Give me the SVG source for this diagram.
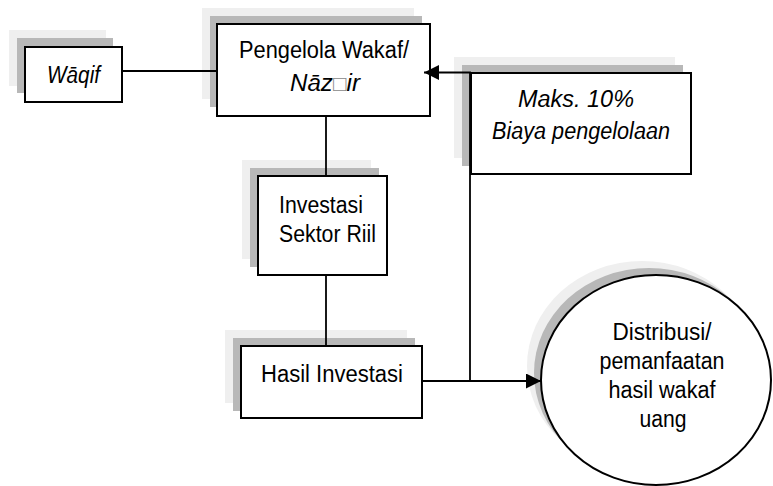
<svg xmlns="http://www.w3.org/2000/svg" width="773" height="486" viewBox="0 0 773 486">
<style>
.sh1{fill:#efefef;stroke:none}
.sh2{fill:#b8b8b8;stroke:none}
.box{fill:#fff;stroke:#000;stroke-width:2}
.t{font-family:"Liberation Sans",Arial,sans-serif;font-size:23.5px;fill:#000}
.i{font-style:italic}
.c{text-anchor:middle}
.ln{fill:none;stroke:#000;stroke-width:1.8}
.tofu{font-style:normal;fill:#888}
</style>
<defs>
<marker id="ah" markerUnits="userSpaceOnUse" markerWidth="16" markerHeight="16" refX="15" refY="7.5" orient="auto">
<path d="M0,0 L15,7.5 L0,15 z" fill="#000"/>
</marker>
</defs>
<rect width="773" height="486" fill="#fff"/>
<g id="waqif">
<rect class="sh1" x="9" y="30" width="97" height="56"/>
<rect class="sh2" x="17" y="38" width="96" height="55"/>
<rect class="box" x="25" y="47" width="97" height="55"/>
<text class="t i c" x="73.5" y="83" textLength="53" lengthAdjust="spacingAndGlyphs">Wāqif</text>
</g>
<g id="pengelola">
<rect class="sh1" x="202" y="8" width="212" height="91"/>
<rect class="sh2" x="210" y="16" width="212" height="91"/>
<rect class="box" x="217" y="24" width="213" height="92"/>
<text class="t c" x="324" y="58" textLength="170" lengthAdjust="spacingAndGlyphs">Pengelola Wakaf/</text>
<text class="t i c" x="325" y="91" textLength="70" lengthAdjust="spacingAndGlyphs">Nāz<tspan class="tofu" font-size="22">□</tspan>ir</text>
</g>
<g id="maks">
<rect class="sh1" x="454" y="57" width="221" height="101"/>
<rect class="sh2" x="462" y="65" width="221" height="101"/>
<rect class="box" x="471" y="73" width="220" height="101"/>
<text class="t i c" x="576" y="107" textLength="116" lengthAdjust="spacingAndGlyphs">Maks. 10%</text>
<text class="t i c" x="581" y="139" textLength="178" lengthAdjust="spacingAndGlyphs">Biaya pengelolaan</text>
</g>
<g id="investasi">
<rect class="sh1" x="242" y="160" width="129" height="99"/>
<rect class="sh2" x="250" y="168" width="129" height="99"/>
<rect class="box" x="258" y="176" width="129" height="99"/>
<text class="t" x="279" y="213" textLength="84" lengthAdjust="spacingAndGlyphs">Investasi</text>
<text class="t" x="279" y="242" textLength="97" lengthAdjust="spacingAndGlyphs">Sektor Riil</text>
</g>
<g id="hasil">
<rect class="sh1" x="225" y="330" width="182" height="73"/>
<rect class="sh2" x="233" y="338" width="182" height="73"/>
<rect class="box" x="241" y="346" width="181" height="72"/>
<text class="t c" x="332" y="382" textLength="142" lengthAdjust="spacingAndGlyphs">Hasil Investasi</text>
</g>
<g id="distribusi">
<ellipse class="sh1" cx="642" cy="366" rx="115" ry="105"/>
<ellipse class="sh2" cx="649" cy="373" rx="115" ry="105"/>
<ellipse class="box" cx="656" cy="380" rx="115" ry="105"/>
<text class="t c" x="662" y="340" textLength="99" lengthAdjust="spacingAndGlyphs">Distribusi/</text>
<text class="t c" x="662" y="369" textLength="125" lengthAdjust="spacingAndGlyphs">pemanfaatan</text>
<text class="t c" x="662" y="398" textLength="107" lengthAdjust="spacingAndGlyphs">hasil wakaf</text>
<text class="t c" x="663" y="427" textLength="47" lengthAdjust="spacingAndGlyphs">uang</text>
</g>
<g id="connectors">
<path class="ln" d="M122,71 H217"/>
<path class="ln" d="M326,116 V176"/>
<path class="ln" d="M326,275 V346"/>
<path class="ln" d="M422,381 H541" marker-end="url(#ah)"/>
<path class="ln" d="M470,381 V72.5 H424" marker-end="url(#ah)"/>
</g>
</svg>
